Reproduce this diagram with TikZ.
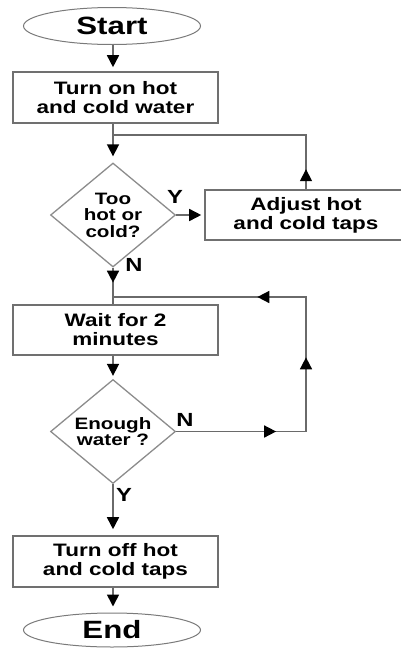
\documentclass[tikz,border=0pt]{standalone}
\usepackage{fontspec}
\setmainfont{Liberation Sans}[FakeStretch=1.25]
\usetikzlibrary{shapes.geometric,arrows.meta,decorations.markings}

\definecolor{linegray}{HTML}{6A6A6A}
\definecolor{boxgray}{HTML}{707070}
\definecolor{diagray}{HTML}{8C8C8C}
\definecolor{ellgray}{HTML}{7A7A7A}

\begin{document}
\begin{tikzpicture}[x=1pt,y=-1pt,
  every node/.style={font=\bfseries\fontsize{18}{19}\selectfont, text=black},
  flowline/.style={draw=linegray, line width=1.6pt},
  headtip/.tip={Triangle[length=12pt,width=12pt,color=black]},
  endtip/.style={-headtip},
  terminal/.style={ellipse, draw=ellgray, line width=1pt, inner sep=0pt,
    minimum width=177pt, minimum height=37pt,
    font=\bfseries\fontsize{25}{26}\selectfont},
  procbox/.style={rectangle, draw=boxgray, line width=1.6pt, inner sep=0pt,
    minimum width=205pt, minimum height=51pt, align=center},
  decision/.style={diamond, draw=diagray, line width=1.3pt, inner sep=0pt,
    aspect=1.2, minimum width=125pt, minimum height=104pt, align=center,
    font=\bfseries\fontsize{16.5}{16.5}\selectfont},
  branch/.style={font=\bfseries\fontsize{19}{20}\selectfont, inner sep=0pt},
  tipat/.style={postaction={decorate, decoration={markings,
    mark=at position #1 with {\arrow{headtip}}}}}
]
\clip (0,0) rectangle (401,648);

% shapes
\node[terminal] (start) at (112,26) {Start};
\node[procbox] (box1) at (115.5,97.5) {Turn on hot\\and cold water};
\node[decision] (d1) at (113,215) {Too\\hot or\\cold?};
\node[procbox, minimum width=202pt, minimum height=50pt] (adj) at (306,215) {Adjust hot\\and cold taps};
\node[procbox, minimum height=50pt] (box2) at (115.5,330) {Wait for 2\\minutes};
\node[decision] (d2) at (113,431.5) {Enough\\water ?};
\node[procbox] (box3) at (115.5,561.5) {Turn off hot\\and cold taps};
\node[terminal, minimum height=34pt] (end) at (112,630) {End};

% branch labels
\node[branch] (y1) at (175,197) {Y};
\node[branch] (n1) at (134,265) {N};
\node[branch] (n2) at (185,420) {N};
\node[branch] (y2) at (124,495) {Y};

% routing points
\coordinate (j1) at (113,135);
\coordinate (c1) at (306,135);
\coordinate (j2) at (113,297);
\coordinate (c3) at (306,431.5);
\coordinate (c4) at (306,297);

% connectors
\draw[flowline, endtip, shorten >=4pt] (d1.north |- start.south) -- (d1.north |- box1.north);
\draw[flowline, endtip, shorten >=6pt] (d1.north |- box1.south) -- (d1.north);
\draw[flowline, tipat=20pt] (adj.north) -- (c1) -- (j1);
\draw[flowline, endtip, shorten >=3pt] (d1.east) -- (adj.west);
\draw[flowline, tipat=15pt] (d1.south) -- (d1.south |- box2.north);
\draw[flowline, endtip, shorten >=3pt] (d2.north |- box2.south) -- (d2.north);
\draw[flowline, postaction={decorate, decoration={markings,
    mark=at position 100pt with {\arrow{headtip}},
    mark=at position 204pt with {\arrow{headtip}},
    mark=at position 313pt with {\arrow{headtip}}}}]
  (d2.east) -- (c3) -- (c4) -- (j2);
\draw[flowline, endtip, shorten >=6pt] (d2.south) -- (d2.south |- box3.north);
\draw[flowline, endtip, shorten >=6pt] (d2.south |- box3.south) -- (d2.south |- end.north);
\end{tikzpicture}
\end{document}
